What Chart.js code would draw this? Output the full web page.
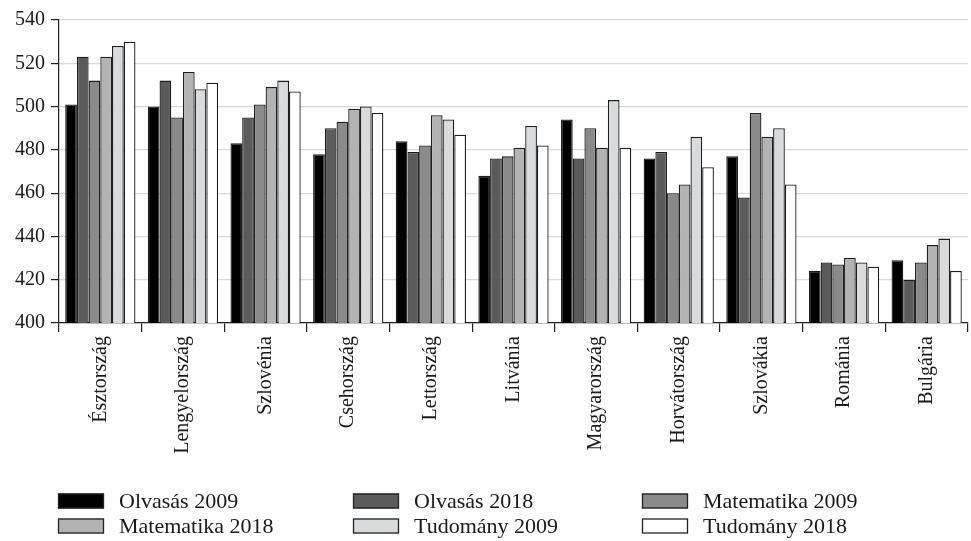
<!DOCTYPE html>
<html>
<head>
<meta charset="utf-8">
<script src="https://cdn.jsdelivr.net/npm/chart.js@4"></script>
<style>
  html, body { margin: 0; padding: 0; background: #fff; }
  #wrap { width: 971px; height: 541px; position: relative; }
</style>
</head>
<body>
<div id="wrap"><canvas id="grafica"></canvas></div>
<script>
// ===============================
// DATOS
// ===============================
const orszagok = ["Észtország", "Lengyelország", "Szlovénia", "Csehország", "Lettország",
  "Litvánia", "Magyarország", "Horvátország", "Szlovákia", "Románia", "Bulgária"];

const olvasas2009    = [501, 500, 483, 478, 484, 468, 494, 476, 477, 424, 429];
const olvasas2018    = [523, 512, 495, 490, 479, 476, 476, 479, 458, 428, 420];
const matematika2009 = [512, 495, 501, 493, 482, 477, 490, 460, 497, 427, 428];
const matematika2018 = [523, 516, 509, 499, 496, 481, 481, 464, 486, 430, 436];
const tudomany2009   = [528, 508, 512, 500, 494, 491, 503, 486, 490, 428, 439];
const tudomany2018   = [530, 511, 507, 497, 487, 482, 481, 472, 464, 426, 424];

const yTicks = [400, 420, 440, 460, 480, 500, 520, 540];

const sorozatNevek = ["Olvasás 2009", "Olvasás 2018", "Matematika 2009",
  "Matematika 2018", "Tudomány 2009", "Tudomány 2018"];
const sorozatAdatok = [olvasas2009, olvasas2018, matematika2009,
  matematika2018, tudomany2009, tudomany2018];
const szinek = ["#000000", "#5b5b5b", "#8a8a8a", "#b3b3b3", "#d9dadc", "#ffffff"];

const FONT = '"Liberation Serif", "DejaVu Serif", serif';
const SZOVEG = "#1a1a1a";

// ===============================
// LEYENDA (3 columnas)
// ===============================
const leyendaPlugin = {
  id: "leyendaRacs",
  afterDraw(chart) {
    const ctx = chart.ctx;
    const colX = [58, 353, 642];
    const rowY = [501, 526];
    ctx.save();
    ctx.font = "22px " + FONT;
    ctx.textBaseline = "middle";
    ctx.textAlign = "left";
    chart.data.datasets.forEach((ds, i) => {
      const x = colX[i % 3];
      const y = rowY[Math.floor(i / 3)];
      ctx.fillStyle = ds.backgroundColor;
      ctx.fillRect(x, y - 7.5, 46, 15);
      ctx.strokeStyle = "#222";
      ctx.lineWidth = 1.3;
      ctx.strokeRect(x + 0.5, y - 7, 45, 14);
      ctx.fillStyle = SZOVEG;
      ctx.fillText(ds.label, x + 61, y + 1);
    });
    ctx.restore();
  }
};

// ===============================
// GRAFICA
// ===============================
function crearGrafica() {
  new Chart(document.getElementById("grafica"), {
    type: "bar",
    data: {
      labels: orszagok,
      datasets: sorozatNevek.map((nev, i) => ({
        label: nev,
        data: sorozatAdatok[i],
        backgroundColor: szinek[i],
        borderColor: "#1e1e1e",
        borderWidth: 1.3,
        barPercentage: 1.0,
        categoryPercentage: 0.85
      }))
    },
    options: {
      responsive: true,
      maintainAspectRatio: false,
      animation: false,
      layout: { padding: { top: 20, right: 3, bottom: 0, left: 0 } },
      plugins: {
        legend: { display: false },
        tooltip: { enabled: false }
      },
      scales: {
        x: {
          grid: {
            offset: true,
            drawOnChartArea: false,
            drawTicks: true,
            tickLength: 9,
            tickColor: "#222",
            lineWidth: 1.2
          },
          border: { color: "#222", width: 1.2 },
          ticks: {
            minRotation: 90,
            maxRotation: 90,
            autoSkip: false,
            padding: 4,
            color: SZOVEG,
            font: { family: FONT, size: 20 }
          },
          afterFit(scale) { scale.height = 218; }
        },
        y: {
          min: 400,
          max: 540,
          afterBuildTicks(scale) { scale.ticks = yTicks.map(v => ({ value: v })); },
          grid: {
            color: "#d9d9d9",
            lineWidth: 1.2,
            tickLength: 8,
            tickColor: "#222"
          },
          border: { color: "#222", width: 1.2 },
          ticks: {
            padding: 6,
            color: SZOVEG,
            font: { family: FONT, size: 20 }
          },
          afterFit(scale) { scale.width = 59; }
        }
      }
    },
    plugins: [leyendaPlugin]
  });
}

Promise.all([
  document.fonts.load('20px "Liberation Serif"'),
  document.fonts.load('20px "DejaVu Serif"')
]).catch(() => {}).then(crearGrafica);
</script>
</body>
</html>
